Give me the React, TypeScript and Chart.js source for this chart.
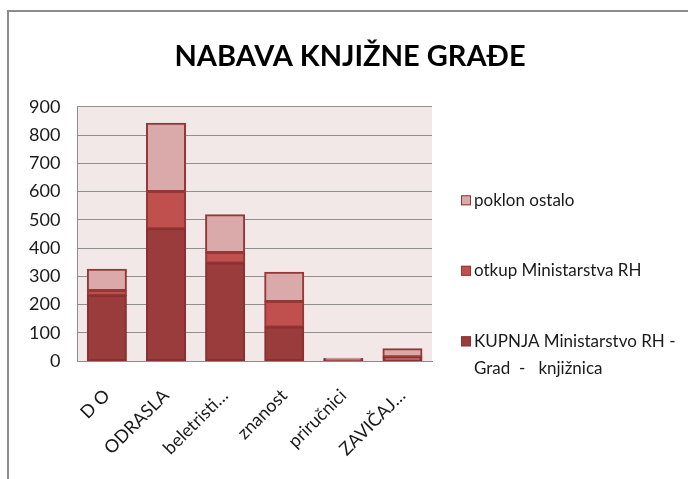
import React, { useEffect, useRef } from "react";
import { Chart, registerables } from "chart.js";

Chart.register(...registerables);

const categories = ["D O", "ODRASLA", "beletristi…", "znanost", "priručnici", "ZAVIČAJ…"];
const kupnjaValues = [232, 468, 347, 120, 3, 13];
const otkupValues = [18, 132, 37, 91, 1, 2];
const poklonValues = [75, 242, 134, 103, 6, 28];
const seriesLabels = ["KUPNJA Ministarstvo RH - Grad  -   knjižnica", "otkup Ministarstva RH", "poklon ostalo"];
const legendLines = [["KUPNJA Ministarstvo RH -", "Grad  -   knjižnica"], ["otkup Ministarstva RH"], ["poklon ostalo"]];
const yTicks = [0, 100, 200, 300, 400, 500, 600, 700, 800, 900];
const titleText = "NABAVA KNJIŽNE GRAĐE";

const FONT = 'Lato, "Open Sans", sans-serif';
const fills = ["#9B3C3C", "#C0504D", "#DAAAAB"];
const borders = ["#8A3030", "#953737", "#953737"];

const framePlugin = {
  id: "frameAndBg",
  beforeDraw(chart: any) {
    const { ctx, chartArea } = chart;
    ctx.save();
    ctx.fillStyle = "#ffffff";
    ctx.fillRect(0, 0, chart.width, chart.height);
    ctx.strokeStyle = "#8c8c8c";
    ctx.lineWidth = 2;
    ctx.beginPath();
    ctx.moveTo(8, chart.height);
    ctx.lineTo(8, 11);
    ctx.lineTo(chart.width, 11);
    ctx.stroke();
    ctx.fillStyle = "#F3E8E8";
    ctx.fillRect(chartArea.left, chartArea.top, chartArea.right - chartArea.left, chartArea.bottom - chartArea.top);
    ctx.restore();
  },
};

const legendPlugin = {
  id: "customLegend",
  afterDraw(chart: any) {
    const { ctx, chartArea } = chart;
    const order = [2, 1, 0];
    const x = chartArea.right + 29;
    let y = chartArea.top + 93.5;
    ctx.save();
    ctx.font = `17px ${FONT}`;
    ctx.textBaseline = "middle";
    ctx.textAlign = "left";
    order.forEach((idx) => {
      ctx.fillStyle = fills[idx];
      ctx.fillRect(x, y - 5, 10, 10);
      ctx.strokeStyle = borders[idx];
      ctx.lineWidth = 1;
      ctx.strokeRect(x + 0.5, y - 4.5, 9, 9);
      ctx.fillStyle = "#1a1a1a";
      legendLines[idx].forEach((line, li) => {
        ctx.fillText(line, x + 13, y + li * 27.5);
      });
      y += 70.5;
    });
    ctx.restore();
  },
};

export default function App() {
  const canvasRef = useRef<HTMLCanvasElement | null>(null);

  useEffect(() => {
    if (!canvasRef.current) return;
    const data = [kupnjaValues, otkupValues, poklonValues];
    const chart = new Chart(canvasRef.current, {
      type: "bar",
      data: {
        labels: categories,
        datasets: data.map((vals, i) => ({
          label: seriesLabels[i],
          data: vals,
          backgroundColor: fills[i],
          borderColor: borders[i],
          borderWidth: 2,
          borderSkipped: false,
          inflateAmount: 0.5,
          barPercentage: 0.66,
          categoryPercentage: 1,
        })),
      },
      options: {
        animation: false,
        responsive: false,
        maintainAspectRatio: false,
        layout: { padding: { left: 12, right: 0, top: 0, bottom: 0 } },
        plugins: {
          legend: { display: false },
          tooltip: { enabled: false },
          title: {
            display: true,
            text: titleText,
            color: "#000000",
            font: { family: FONT, size: 29, weight: "bold" },
            padding: { top: 39, bottom: 33 },
          },
        },
        scales: {
          x: {
            stacked: true,
            grid: { display: false, drawTicks: false },
            border: { display: true, color: "#8c8c8c", width: 1 },
            ticks: {
              color: "#1a1a1a",
              font: { family: FONT, size: 18 },
              minRotation: 45,
              maxRotation: 45,
              padding: 24,
              autoSkip: false,
            },
            afterFit: (scale: any) => {
              scale.height = 118;
            },
          },
          y: {
            stacked: true,
            min: 0,
            max: 900,
            afterBuildTicks: (scale: any) => {
              scale.ticks = yTicks.map((v) => ({ value: v }));
            },
            grid: { color: "#8f8f8f", lineWidth: 1, drawTicks: false },
            border: { display: true, color: "#8c8c8c", width: 1 },
            ticks: {
              color: "#1a1a1a",
              font: { family: FONT, size: 18 },
              padding: 17,
            },
          },
          yRight: {
            position: "right",
            display: true,
            grid: { display: false, drawTicks: false },
            border: { display: false },
            ticks: { display: false },
            afterFit: (scale: any) => {
              scale.width = 256;
            },
          },
        },
      },
      plugins: [framePlugin, legendPlugin],
    } as any);
    return () => chart.destroy();
  }, []);

  return (
    <div style={{ position: "absolute", left: 0, top: 0, width: 688, height: 479, background: "#fff" }}>
      <canvas ref={canvasRef} width={688} height={479} style={{ width: 688, height: 479, display: "block" }} />
    </div>
  );
}
